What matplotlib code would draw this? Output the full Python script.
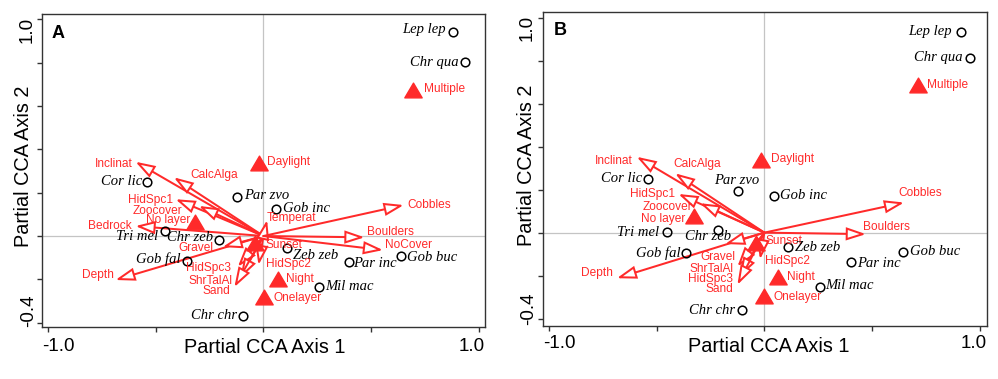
import matplotlib
matplotlib.use("Agg")
import matplotlib.pyplot as plt
from matplotlib.patches import FancyArrowPatch, ArrowStyle
from matplotlib.path import Path
import numpy as np

plt.rcParams['font.family'] = ['Liberation Sans', 'DejaVu Sans']

RED = '#ff2a2a'

# ---------------- Panel A data ----------------
A_species = ['Lep lep', 'Chr qua', 'Cor lic', 'Par zvo', 'Gob inc', 'Tri mel', 'Chr zeb',
             'Gob fal', 'Chr chr', 'Zeb zeb', 'Par inc', 'Gob buc', 'Mil mac']
A_species_x = [0.879, 0.933, -0.540, -0.122, 0.060, -0.458, -0.207, -0.357, -0.096, 0.107, 0.396, 0.639, 0.257]
A_species_y = [0.944, 0.802, 0.251, 0.182, 0.125, 0.025, -0.018, -0.114, -0.370, -0.057, -0.122, -0.091, -0.234]

A_cent = ['Multiple', 'Daylight', 'No layer', 'Sunset', 'Night', 'Onelayer']
A_cent_x = [0.693, -0.022, -0.319, -0.037, 0.066, 0.001]
A_cent_y = [0.674, 0.336, 0.066, -0.034, -0.200, -0.280]

A_env = ['Inclinat', 'CalcAlga', 'HidSpc1', 'Zoocover', 'Bedrock', 'Depth', 'Gravel', 'HidSpc3',
         'ShrTalAl', 'Sand', 'HidSpc2', 'Temperat', 'Cobbles', 'Boulders', 'NoCover']
A_env_x = [-0.594, -0.416, -0.408, -0.300, -0.594, -0.687, -0.190, -0.119, -0.107, -0.135, -0.023, 0.017, 0.651, 0.469, 0.555]
A_env_y = [0.343, 0.271, 0.170, 0.139, 0.046, -0.203, -0.051, -0.142, -0.194, -0.236, -0.134, 0.074, 0.143, -0.006, -0.065]

# ---------------- Panel B data ----------------
B_species = ['Lep lep', 'Chr qua', 'Cor lic', 'Par zvo', 'Gob inc', 'Tri mel', 'Chr zeb',
             'Gob fal', 'Chr chr', 'Zeb zeb', 'Gob buc', 'Par inc', 'Mil mac']
B_species_x = [0.911, 0.954, -0.538, -0.123, 0.045, -0.452, -0.216, -0.364, -0.105, 0.111, 0.644, 0.400, 0.258]
B_species_y = [0.935, 0.814, 0.250, 0.195, 0.172, 0.002, 0.013, -0.093, -0.360, -0.065, -0.088, -0.138, -0.251]

B_cent = ['Multiple', 'Daylight', 'No layer', 'Sunset', 'Night', 'Onelayer']
B_cent_x = [0.711, -0.017, -0.325, -0.038, 0.062, -0.001]
B_cent_y = [0.687, 0.338, 0.078, -0.048, -0.205, -0.294]

B_env = ['Inclinat', 'CalcAlga', 'HidSpc1', 'Zoocover', 'Depth', 'Gravel', 'ShrTalAl',
         'HidSpc3', 'Sand', 'HidSpc2', 'Cobbles', 'Boulders']
B_env_x = [-0.592, -0.414, -0.399, -0.298, -0.684, -0.182, -0.125, -0.116, -0.125, -0.020, 0.648, 0.471]
B_env_y = [0.353, 0.276, 0.180, 0.137, -0.212, -0.053, -0.158, -0.207, -0.243, -0.124, 0.140, -0.007]

xticks = [-1.0, -0.5, 0.0, 0.5, 1.0]
yticks = [-0.4, -0.2, 0.0, 0.2, 0.4, 0.6, 0.8, 1.0]

# ---------------- label placement (pixel offsets, ha) ----------------
A_sp_off = {'Lep lep': (-7, 2, 'right'), 'Chr qua': (-6, 0, 'right'), 'Cor lic': (-5, 0, 'right'),
            'Par zvo': (6.5, 1, 'left'), 'Gob inc': (6.5, 0.7, 'left'), 'Tri mel': (-6.3, -6, 'right'),
            'Chr zeb': (-5.3, 2.7, 'right'), 'Gob fal': (-6, 1.7, 'right'), 'Chr chr': (-5.3, 1, 'right'),
            'Zeb zeb': (6, -7.4, 'left'), 'Par inc': (4.7, -1, 'left'), 'Gob buc': (6.3, -2, 'left'),
            'Mil mac': (6.7, 0, 'left')}
A_ce_off = {'Multiple': (10.7, 0.7, 'left'), 'Daylight': (8.7, 1, 'left'), 'No layer': (-4.3, 1.7, 'right'),
            'Sunset': (10, -1.7, 'left'), 'Night': (8.7, 0, 'left'), 'Onelayer': (9.7, -1, 'left')}
A_env_off = {'Inclinat': (-2.3, -2.6, 'right'), 'CalcAlga': (16.7, 2.3, 'left'), 'HidSpc1': (-3, -0.7, 'right'),
             'Zoocover': (-16.3, -4.7, 'right'), 'Bedrock': (-4, 0, 'right'), 'Depth': (-2, 5, 'right'),
             'Gravel': (-9, -0.7, 'right'), 'HidSpc3': (-7.3, -1.6, 'right'), 'ShrTalAl': (-8, -2.7, 'right'),
             'Sand': (-4, -3.7, 'right'), 'HidSpc2': (7, 0.7, 'left'), 'Temperat': (0, 1.7, 'left'),
             'Cobbles': (3.7, 0, 'left'), 'Boulders': (2, 5.6, 'left'), 'NoCover': (2.3, 5, 'left')}

B_sp_off = {'Lep lep': (-8.7, 0, 'right'), 'Chr qua': (-7, 0, 'right'), 'Cor lic': (-6.3, 0, 'right'),
            'Par zvo': (-1, 10.7, 'center'), 'Gob inc': (6, 0, 'left'), 'Tri mel': (-8, 0, 'right'),
            'Chr zeb': (-10, -6.7, 'center'), 'Gob fal': (-5.7, 0, 'right'), 'Chr chr': (-6.7, 0, 'right'),
            'Zeb zeb': (6.7, -1, 'left'), 'Gob buc': (6.7, 0, 'left'), 'Par inc': (6.3, -1, 'left'),
            'Mil mac': (5, 0.7, 'left')}
B_ce_off = {'Multiple': (9.6, 0, 'left'), 'Daylight': (10, 0.7, 'left'), 'No layer': (-9.3, -3.3, 'right'),
            'Sunset': (9, 2, 'left'), 'Night': (9.3, 0, 'left'), 'Onelayer': (9, -1.3, 'left')}
B_env_off = {'Inclinat': (-3.7, -4.3, 'right'), 'CalcAlga': (-2, 9, 'left'), 'HidSpc1': (-3, -0.3, 'right'),
             'Zoocover': (-8, -4, 'right'), 'Depth': (-3.7, 5.6, 'right'), 'Gravel': (10, -13.3, 'right'),
             'ShrTalAl': (-4.3, -2.6, 'right'), 'HidSpc3': (-6, -1.7, 'right'), 'Sand': (-4.3, -4.3, 'right'),
             'HidSpc2': (5, -1.4, 'left'), 'Cobbles': (-6, 9.4, 'left'), 'Boulders': (-3, 7.6, 'left')}

tri_marker = Path([(-1, -0.85), (1, -0.85), (0, 0.85), (-1, -0.85)],
                  [Path.MOVETO, Path.LINETO, Path.LINETO, Path.CLOSEPOLY])

fig = plt.figure(figsize=(9.98, 3.79), dpi=100)
W, H = 998, 379


def make_ax(left, right, top, bottom):
    return fig.add_axes([left / W, 1 - bottom / H, (right - left) / W, (bottom - top) / H])


def draw_panel(ax, letter, sp, spx, spy, sp_off, ce, cex, cey, ce_off, env, envx, envy, env_off,
               xlim, ylim, ylab_pos, xlab_pos, tl):
    ax.set_xlim(*xlim)
    ax.set_ylim(*ylim)
    ax.axhline(0, color='#c4c4c4', lw=0.9, zorder=0)
    ax.axvline(0, color='#c4c4c4', lw=0.9, zorder=0)

    style = ArrowStyle('-|>', head_length=11.5, head_width=3.8)
    for name, x, y in zip(env, envx, envy):
        ar = FancyArrowPatch((0, 0), (x, y), arrowstyle=style, mutation_scale=1,
                             shrinkA=0, shrinkB=0, lw=1.45, ec=RED, fc='white',
                             joinstyle='miter', zorder=3)
        ax.add_patch(ar)
        dx, dy, ha = env_off[name]
        ax.annotate(name, (x, y), xytext=(dx, dy), textcoords='offset pixels',
                    ha=ha, va='center', color=RED, fontsize=8.6, zorder=5)

    ax.plot(cex, cey, linestyle='none', marker=tri_marker, ms=12.5, color=RED, mec=RED, zorder=4)
    for name, x, y in zip(ce, cex, cey):
        dx, dy, ha = ce_off[name]
        ax.annotate(name, (x, y), xytext=(dx, dy), textcoords='offset pixels',
                    ha=ha, va='center', color=RED, fontsize=8.6, zorder=5)

    ax.plot(spx, spy, linestyle='none', marker='o', ms=6.2, mfc='none', mec='black', mew=1.1, zorder=4)
    for name, x, y in zip(sp, spx, spy):
        dx, dy, ha = sp_off[name]
        ax.annotate(name, (x, y), xytext=(dx, dy), textcoords='offset pixels',
                    ha=ha, va='center', color='black', fontsize=10.5, style='italic',
                    family=['Liberation Serif', 'DejaVu Serif'], zorder=5)

    ax.set_xticks(xticks)
    ax.set_yticks(yticks)
    ax.set_xticklabels([])
    ax.set_yticklabels([])
    ax.tick_params(direction='out', length=3.5, width=1.0, color='#333333')
    for s in ax.spines.values():
        s.set_color('#333333')
        s.set_linewidth(1.0)

    # end tick labels
    t = ax.transAxes
    ax.text(0.0, tl[0], '-1.0', transform=t, ha='left', va='center', fontsize=13.5)
    ax.text(1.0, tl[0], '1.0', transform=t, ha='right', va='center', fontsize=13.5)
    ax.text(tl[1], tl[2], '1.0', transform=t, ha='center', va='top', rotation=90, fontsize=13.5)
    ax.text(tl[3], tl[4], '-0.4', transform=t, ha='center', va='bottom', rotation=90, fontsize=13.5)

    ax.text(ylab_pos[0], ylab_pos[1], 'Partial CCA Axis 2', transform=t, rotation=90,
            ha='center', va='center', fontsize=14.3)
    ax.text(xlab_pos[0], xlab_pos[1], 'Partial CCA Axis 1', transform=t,
            ha='center', va='center', fontsize=14.3)
    ax.text(0.023, 0.966, letter, transform=t, ha='left', va='top', fontsize=13, fontweight='bold')


axA = make_ax(41.7, 485, 14, 327)
draw_panel(axA, 'A', A_species, A_species_x, A_species_y, A_sp_off,
           A_cent, A_cent_x, A_cent_y, A_ce_off, A_env, A_env_x, A_env_y, A_env_off,
           (-1.029, 1.028), (-0.420, 1.025), (-0.040, 0.514), (0.504, -0.067),
           (-0.061, -0.033, 0.990, -0.030, 0.0))

axB = make_ax(543.3, 986.7, 11.7, 325.7)
draw_panel(axB, 'B', B_species, B_species_x, B_species_y, B_sp_off,
           B_cent, B_cent_x, B_cent_y, B_ce_off, B_env, B_env_x, B_env_y, B_env_off,
           (-1.025, 1.031), (-0.433, 1.028), (-0.039, 0.512), (0.509, -0.066),
           (-0.058, -0.036, 0.989, -0.033, 0.002))

fig.savefig('out.png', dpi=100)
